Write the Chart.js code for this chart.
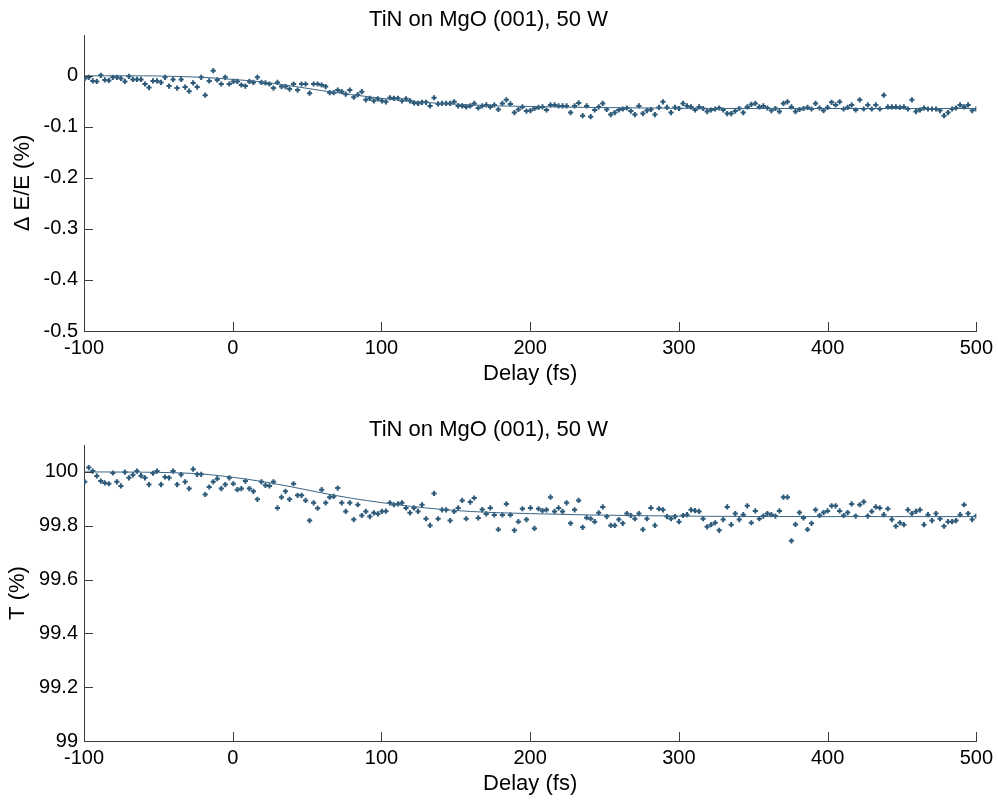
<!DOCTYPE html>
<html lang="en">
<head>
    <meta charset="UTF-8">
    <title>TiN on MgO (001), 50 W</title>
    <style>
        body { margin: 0; background: #fff; }
        #wrap { position: relative; width: 998px; height: 801px; }
        canvas { position: absolute; left: 0; }
    </style>
</head>
<body>
<div id="wrap">
    <!-- Top panel: relative reflectance change -->
    <canvas id="reflChart" width="998" height="391" style="top:0"></canvas>
    <!-- Bottom panel: transmission -->
    <canvas id="transChart" width="998" height="391" style="top:410px"></canvas>
</div>

<script src="https://cdn.jsdelivr.net/npm/chart.js"></script>

<script>
    // Pump-probe delay (fs) of every measured point
    const delays = [
        -99.5,-96.8,-94.1,-91.4,-88.7,-86.0,-83.3,-80.6,-77.9,-75.2,
        -72.5,-69.8,-67.1,-64.4,-61.7,-59.0,-56.3,-53.6,-50.9,-48.2,
        -45.5,-42.8,-40.1,-37.4,-34.7,-32.0,-29.3,-26.6,-23.9,-21.2,
        -18.5,-15.8,-13.1,-10.4,-7.7,-5.0,-2.3,0.4,3.1,5.8,
        8.5,11.2,13.9,16.6,19.3,22.0,24.7,27.4,30.1,32.8,
        35.5,38.2,40.9,43.6,46.3,49.0,51.7,54.4,57.1,59.8,
        62.5,65.2,67.9,70.6,73.3,76.0,78.7,81.4,84.1,86.8,
        89.5,92.2,94.9,97.6,100.3,103.0,105.7,108.4,111.1,113.8,
        116.5,119.2,121.9,124.6,127.3,130.0,132.7,135.4,138.1,140.8,
        143.5,146.2,148.9,151.6,154.3,157.0,159.7,162.4,165.1,167.8,
        170.5,173.2,175.9,178.6,181.3,184.0,186.7,189.4,192.1,194.8,
        197.5,200.2,202.9,205.6,208.3,211.0,213.7,216.4,219.1,221.8,
        224.5,227.2,229.9,232.6,235.3,238.0,240.7,243.4,246.1,248.8,
        251.5,254.2,256.9,259.6,262.3,265.0,267.7,270.4,273.1,275.8,
        278.5,281.2,283.9,286.6,289.3,292.0,294.7,297.4,300.1,302.8,
        305.5,308.2,310.9,313.6,316.3,319.0,321.7,324.4,327.1,329.8,
        332.5,335.2,337.9,340.6,343.3,346.0,348.7,351.4,354.1,356.8,
        359.5,362.2,364.9,367.6,370.3,373.0,375.7,378.4,381.1,383.8,
        386.5,389.2,391.9,394.6,397.3,400.0,402.7,405.4,408.1,410.8,
        413.5,416.2,418.9,421.6,424.3,427.0,429.7,432.4,435.1,437.8,
        440.5,443.2,445.9,448.6,451.3,454.0,456.7,459.4,462.1,464.8,
        467.5,470.2,472.9,475.6,478.3,481.0,483.7,486.4,489.1,491.8,
        494.5,497.2,499.9
    ];

    // Delta E/E (%) measured
    const reflValues = [
        -0.005,-0.003,-0.010,-0.011,0.001,-0.008,-0.009,-0.003,-0.003,-0.005,
        -0.011,-0.001,-0.007,-0.007,-0.007,-0.016,-0.023,-0.010,-0.010,-0.013,
        -0.003,-0.020,-0.007,-0.024,-0.007,-0.022,-0.030,-0.014,-0.022,-0.003,
        -0.038,-0.010,0.010,-0.008,-0.016,-0.003,-0.016,-0.011,-0.011,-0.018,
        -0.020,-0.011,-0.013,-0.003,-0.013,-0.014,-0.016,-0.024,-0.013,-0.021,
        -0.021,-0.026,-0.016,-0.028,-0.016,-0.016,-0.034,-0.016,-0.016,-0.018,
        -0.021,-0.033,-0.033,-0.028,-0.031,-0.036,
        -0.028,-0.042,-0.037,-0.031,-0.047,-0.044,-0.049,-0.045,-0.049,-0.051,
        -0.043,-0.044,-0.044,-0.049,-0.045,-0.049,-0.053,-0.054,-0.052,-0.052,
        -0.059,-0.043,-0.055,-0.054,-0.054,-0.054,-0.051,-0.059,-0.059,-0.061,
        -0.059,-0.054,-0.063,-0.059,-0.057,-0.061,-0.057,-0.066,-0.054,-0.047,
        -0.055,-0.072,-0.066,-0.061,-0.069,-0.068,-0.064,-0.062,-0.061,-0.067,
        -0.057,-0.057,-0.059,-0.059,-0.059,-0.072,-0.059,-0.053,-0.078,-0.059,
        -0.080,-0.067,-0.061,-0.054,-0.066,-0.076,-0.072,-0.067,-0.065,-0.063,
        -0.069,-0.076,-0.059,-0.074,-0.068,-0.066,-0.076,-0.062,-0.051,-0.062,
        -0.072,-0.062,-0.064,
        -0.054,-0.059,-0.061,-0.067,-0.061,-0.064,-0.070,-0.067,-0.065,-0.063,
        -0.067,-0.074,-0.074,-0.069,-0.064,-0.072,-0.061,-0.056,-0.054,-0.061,
        -0.059,-0.063,-0.068,-0.064,-0.070,-0.054,-0.051,-0.061,-0.070,-0.066,
        -0.064,-0.062,-0.065,-0.054,-0.063,-0.068,-0.062,-0.052,-0.057,-0.051,
        -0.065,-0.062,-0.057,-0.067,-0.047,-0.065,-0.057,-0.065,-0.057,-0.065,
        -0.038,-0.061,-0.061,-0.061,-0.062,-0.061,-0.065,-0.047,-0.070,-0.067,
        -0.063,-0.065,-0.065,-0.065,-0.068,-0.078,-0.072,-0.065,-0.063,-0.057,
        -0.061,-0.057,-0.068,-0.065
    ];

    // T (%) measured
    const transValues = [
        99.963,100.016,100.003,99.985,99.966,99.959,99.956,99.996,99.963,99.948,
        99.999,99.978,99.989,100.003,99.986,99.978,99.953,99.995,100.003,99.953,
        99.981,99.978,100.003,99.953,99.990,99.963,99.938,100.010,99.991,99.991,
        99.916,99.944,99.963,99.975,99.938,99.953,99.978,99.956,99.934,99.938,
        99.966,99.938,99.928,99.898,99.963,99.950,99.948,99.963,99.866,99.906,
        99.928,99.898,99.956,99.913,99.913,99.894,99.819,99.885,99.865,99.934,
        99.885,99.906,99.909,99.940,99.885,99.853,
        99.885,99.823,99.878,99.838,99.853,99.834,99.848,99.844,99.853,99.854,
        99.885,99.878,99.881,99.885,99.866,99.848,99.866,99.853,99.878,99.826,
        99.801,99.920,99.826,99.859,99.859,99.819,99.853,99.866,99.894,99.826,
        99.888,99.903,99.829,99.860,99.844,99.866,99.840,99.786,99.840,99.881,
        99.840,99.783,99.815,99.863,99.823,99.866,99.790,99.863,99.856,99.859,
        99.906,99.853,99.866,99.853,99.885,99.809,99.859,99.894,99.794,99.830,
        99.826,99.815,99.848,99.870,99.834,99.801,99.801,99.823,99.809,99.845,
        99.838,99.826,99.845,99.786,99.826,99.866,99.801,99.863,99.859,99.834,
        99.826,99.834,99.815,
        99.838,99.841,99.859,99.856,99.853,99.826,99.796,99.804,99.811,99.783,
        99.823,99.870,99.804,99.845,99.823,99.841,99.874,99.811,99.855,99.826,
        99.836,99.845,99.841,99.836,99.855,99.906,99.906,99.744,99.805,99.849,
        99.829,99.786,99.809,99.859,99.838,99.849,99.855,99.874,99.874,99.855,
        99.838,99.849,99.881,99.836,99.878,99.889,99.836,99.853,99.870,99.866,
        99.841,99.863,99.823,99.798,99.811,99.804,99.859,99.845,99.853,99.859,
        99.804,99.841,99.819,99.845,99.826,99.798,99.815,99.815,99.819,99.841,
        99.878,99.845,99.823,99.836
    ];

    // Fitted curves
    const fitDelays = [-100,-60,-40,-20,0,20,40,60,80,100,120,140,160,180,200,240,280,320,400,500];
    const reflFit = [0,0,-0.001,-0.003,-0.007,-0.012,-0.020,-0.029,-0.037,-0.044,-0.050,-0.054,-0.057,-0.059,-0.060,-0.062,-0.063,-0.064,-0.064,-0.064];
    const transFit = [100,99.999,99.997,99.992,99.980,99.964,99.944,99.922,99.902,99.886,99.872,99.861,99.853,99.848,99.845,99.840,99.837,99.835,99.834,99.834];

    // Tick values
    const delayTicks = [-100,0,100,200,300,400,500];
    const reflTicks = [-0.5,-0.4,-0.3,-0.2,-0.1,0];
    const transTicks = [99,99.2,99.4,99.6,99.8,100];

    const titleText = 'TiN on MgO (001), 50 W';
    const markColor = '#2e5a7a';
    const lineColor = '#3b6686';
    const axisColor = '#3c3c3c';

    Chart.defaults.font.family = '"Liberation Sans", Arial, Helvetica, sans-serif';
    Chart.defaults.color = '#000';

    // MATLAB style tick marks pointing into the plot
    const inwardTicks = {
        id: 'inwardTicks',
        afterDraw(chart) {
            const {ctx, chartArea: a, scales: {x, y}} = chart;
            const len = 9;
            ctx.save();
            ctx.strokeStyle = axisColor;
            ctx.lineWidth = 1;
            ctx.beginPath();
            x.ticks.forEach(t => {
                const px = Math.round(x.getPixelForValue(t.value)) + 0.5;
                ctx.moveTo(px, a.bottom);
                ctx.lineTo(px, a.bottom - len);
            });
            y.ticks.forEach(t => {
                const py = Math.round(y.getPixelForValue(t.value)) + 0.5;
                ctx.moveTo(a.left, py);
                ctx.lineTo(a.left + len, py);
            });
            ctx.stroke();
            ctx.restore();
        }
    };

    function fmt(v) {
        return Math.abs(v) < 1e-9 ? '0' : String(Math.round(v * 10) / 10);
    }

    // Build one panel
    function makePanel(canvasId, values, fit, yTicks, yMin, yMax, yLabel, yTitlePad) {
        const points = delays.map((d, i) => ({x: d, y: values[i]}));
        const fitPoints = fitDelays.map((d, i) => ({x: d, y: fit[i]}));
        return new Chart(document.getElementById(canvasId), {
            type: 'scatter',
            data: {
                datasets: [{
                    label: 'fit',
                    data: fitPoints,
                    showLine: true,
                    borderColor: lineColor,
                    borderWidth: 1,
                    pointRadius: 0,
                    cubicInterpolationMode: 'monotone'
                }, {
                    label: 'data',
                    data: points,
                    pointStyle: 'cross',
                    pointRadius: 2.6,
                    borderWidth: 2,
                    borderColor: markColor,
                    backgroundColor: markColor
                }]
            },
            options: {
                responsive: false,
                devicePixelRatio: 1,
                animation: false,
                layout: { padding: {left: 0, right: 21, top: 0, bottom: 0} },
                plugins: {
                    legend: { display: false },
                    tooltip: { enabled: false },
                    title: {
                        display: true,
                        text: titleText,
                        font: {size: 22, weight: 'normal'},
                        color: '#000',
                        padding: {top: 7, bottom: 1.6}
                    }
                },
                scales: {
                    x: {
                        type: 'linear',
                        min: -100,
                        max: 500,
                        afterBuildTicks: s => { s.ticks = delayTicks.map(v => ({value: v})); },
                        afterFit: s => { s.height = 391 - 331; },
                        grid: { display: false, drawTicks: false },
                        border: { display: true, color: axisColor, width: 1 },
                        ticks: { autoSkip: false, maxRotation: 0, padding: 5, font: {size: 20}, color: '#000', callback: fmt },
                        title: { display: true, text: 'Delay (fs)', font: {size: 22}, color: '#000', padding: {top: 0, bottom: 3.8} }
                    },
                    y: {
                        type: 'linear',
                        min: yMin,
                        max: yMax,
                        afterBuildTicks: s => { s.ticks = yTicks.map(v => ({value: v})); },
                        afterFit: s => { s.width = 84; },
                        grid: { display: false, drawTicks: false },
                        border: { display: true, color: axisColor, width: 1 },
                        ticks: { padding: 6, font: {size: 20}, color: '#000', callback: fmt },
                        title: { display: true, text: yLabel, font: {size: 22}, color: '#000', padding: {top: yTitlePad, bottom: 0} }
                    }
                }
            },
            plugins: [inwardTicks]
        });
    }

    makePanel('reflChart', reflValues, reflFit, reflTicks, -0.5, 0.08, '\u0394 E/E (%)', 9.8);
    makePanel('transChart', transValues, transFit, transTicks, 99, 100.1, 'T (%)', 4.8);
</script>

</body>
</html>
